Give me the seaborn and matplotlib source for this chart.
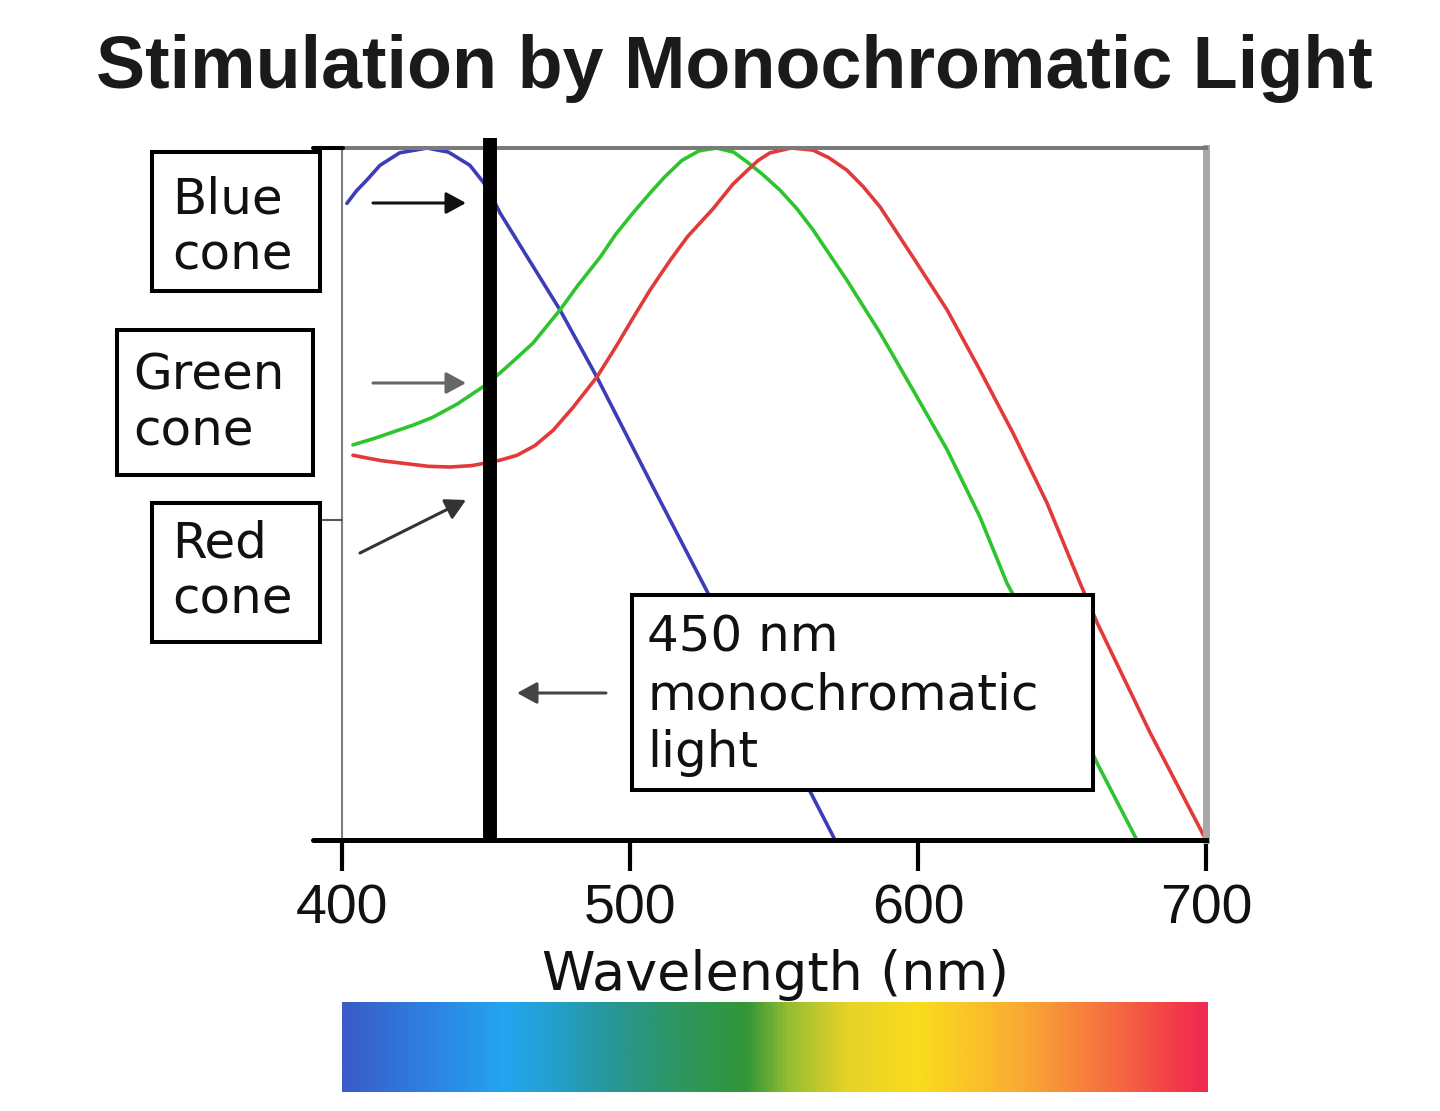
import matplotlib
matplotlib.use("Agg")
import matplotlib.pyplot as plt
import seaborn as sns
import numpy as np
from matplotlib.patches import Rectangle, FancyArrowPatch
from matplotlib.lines import Line2D
from matplotlib.colors import LinearSegmentedColormap

# ---------------- data ----------------
blue_nm = [401.7, 405, 408.7, 413.2, 420, 429.5, 437, 444.4, 450.3, 454.9, 465, 475.7, 488.5, 508.0, 525.3, 540, 556, 571.2]
blue_val = [0.920, 0.938, 0.954, 0.975, 0.993, 1.0, 0.994, 0.975, 0.944, 0.906, 0.838, 0.766, 0.669, 0.510, 0.371, 0.253, 0.123, 0.0]

green_nm = [403.8, 411, 418, 425, 431.6, 440, 449.0, 454.9, 460, 466.3, 475.7, 482, 489.6, 495, 501.0, 507, 512, 518, 524, 530, 536,
            540.6, 546, 552.1, 558, 563.5, 569, 575.3, 586.8, 598.3, 610.1, 621.5, 630.9, 647, 662.2, 676]
green_val = [0.571, 0.580, 0.590, 0.600, 0.611, 0.630, 0.655, 0.675, 0.694, 0.718, 0.766, 0.802, 0.842, 0.875, 0.906, 0.935, 0.958, 0.982, 0.996, 1.0, 0.994,
             0.980, 0.962, 0.939, 0.912, 0.882, 0.848, 0.809, 0.733, 0.650, 0.564, 0.467, 0.371, 0.247, 0.111, 0.0]

red_nm = [403.8, 408.7, 414, 420, 430, 437.5, 445, 450.3, 455, 460.8, 467, 473.3, 480, 488.5, 495, 501, 507, 514, 520,
          528.8, 535.8, 540.6, 544.5, 548.6, 556, 563.5, 569, 575.3, 581, 586.8, 592, 598.3, 610.1, 621.5, 633.0, 644.8, 656.3,
          662.2, 680.6, 700]
red_val = [0.556, 0.552, 0.548, 0.545, 0.540, 0.539, 0.541, 0.545, 0.549, 0.556, 0.570, 0.592, 0.624, 0.669, 0.712, 0.754,
           0.795, 0.838, 0.872, 0.912, 0.948, 0.967, 0.982, 0.993, 1.0, 0.997, 0.986, 0.968, 0.944, 0.915, 0.882, 0.842, 0.766, 0.679,
           0.588, 0.487, 0.371, 0.314, 0.155, 0.0]

light_nm = 451.5
x_ticks = [400, 500, 600, 700]

spectrum_nm = [400, 430, 456, 475, 493, 515, 540, 555, 575, 600, 633, 667, 685, 700]
spectrum_colors = ["#3a5cc8", "#2d82e1", "#23a5f0", "#239fc8", "#289696", "#2d9664", "#329637",
                   "#96be32", "#e6d228", "#fadc1e", "#faaf32", "#f56e41", "#f34646", "#f02850"]

title = "Stimulation by Monochromatic Light"
xlabel = "Wavelength (nm)"
cone_labels = ["Blue\ncone", "Green\ncone", "Red\ncone"]
light_label = "450 nm\nmonochromatic\nlight"

# ---------------- figure ----------------
sns.set_style("white")
plt.rcParams["font.family"] = ["DejaVu Sans"]

W, H = 1440, 1111
fig = plt.figure(figsize=(W / 100, H / 100), dpi=100)
fig.patch.set_facecolor("white")

def fx(px):
    return px / W

def fy(py):
    return 1 - py / H

ax = fig.add_axes([fx(342), fy(840), 864 / W, 692 / H])

sns.lineplot(x=blue_nm, y=blue_val, ax=ax, color="#3d3db8", linewidth=2.6)
sns.lineplot(x=green_nm, y=green_val, ax=ax, color="#2ec42e", linewidth=2.6)
sns.lineplot(x=red_nm, y=red_val, ax=ax, color="#e23a3a", linewidth=2.6)

# monochromatic light line
ax.plot([light_nm, light_nm], [0, 1.015], color="black", linewidth=10,
        solid_capstyle="butt", clip_on=False, zorder=4)

ax.set_xlim(400, 700)
ax.set_ylim(0, 1)
ax.set_xticks(x_ticks)
ax.set_xticklabels([str(t) for t in x_ticks])
ax.set_yticks([])
ax.tick_params(axis="x", direction="out", length=22, width=3, color="black",
               pad=9, labelsize=40, labelcolor="#111111", bottom=True)
for lab in ax.get_xticklabels():
    lab.set_fontfamily("Liberation Sans")

for side, col, lw in [("top", "#7a7a7a", 2.9), ("right", "#a8a8a8", 5.0),
                      ("left", "#808080", 1.5), ("bottom", "black", 3.6)]:
    ax.spines[side].set_visible(True)
    ax.spines[side].set_color(col)
    ax.spines[side].set_linewidth(lw)

ax.set_xlabel(xlabel, fontsize=39, color="#111111", fontfamily="DejaVu Sans")
ax.xaxis.set_label_coords((776 - 342) / 864, (840 - 990) / 692)
ax.xaxis.label.set_verticalalignment("baseline")

# axis extensions
fig.add_artist(Line2D([fx(313), fx(343)], [fy(148), fy(148)], color="black", lw=2.9,
                      transform=fig.transFigure))
fig.add_artist(Line2D([fx(313), fx(343)], [fy(840), fy(840)], color="black", lw=3.6,
                      transform=fig.transFigure))
fig.add_artist(Line2D([fx(320), fx(342)], [fy(520), fy(520)], color="#555555", lw=1.5,
                      transform=fig.transFigure))

# title
fig.text(fx(734), fy(88), title, ha="center", va="baseline", fontsize=53,
         fontweight="bold", fontfamily="Liberation Sans", color="#1a1a1a")

# label boxes (text anchored at the baseline of the last line)
boxes = [(152, 152, 320, 291), (117, 330, 313, 475), (152, 503, 320, 642)]
text_pos = [(172, 270), (133, 446), (172, 614)]
for (x0, y0, x1, y1), (tx, ty), lab in zip(boxes, text_pos, cone_labels):
    fig.add_artist(Rectangle((fx(x0), fy(y1)), (x1 - x0) / W, (y1 - y0) / H,
                             transform=fig.transFigure, facecolor="white",
                             edgecolor="black", lw=2.9, zorder=5))
    fig.text(fx(tx), fy(ty), lab, ha="left", va="baseline", fontsize=36,
             color="#111111", zorder=6, linespacing=1.22)

fig.add_artist(Rectangle((fx(632), fy(790)), (1093 - 632) / W, (790 - 595) / H,
                         transform=fig.transFigure, facecolor="white",
                         edgecolor="black", lw=2.9, zorder=5))
fig.text(fx(647), fy(767), light_label, ha="left", va="baseline", fontsize=36,
         color="#111111", zorder=6, linespacing=1.26)

# arrows
arrows = [((373, 203), (466, 203), "#111111"),
          ((373, 383), (466, 383), "#666666"),
          ((360, 553), (466, 500), "#333333"),
          ((606, 693), (517, 693), "#444444")]
for (xa, ya), (xb, yb), col in arrows:
    fig.add_artist(FancyArrowPatch((fx(xa), fy(ya)), (fx(xb), fy(yb)),
                                   transform=fig.transFigure,
                                   arrowstyle="-|>,head_length=0.55,head_width=0.3",
                                   mutation_scale=22, lw=2.2, color=col,
                                   shrinkA=0, shrinkB=0, zorder=6))

# spectrum bar
sax = fig.add_axes([fx(342), fy(1092), 866 / W, 90 / H])
pos = [(n - 400) / 300 for n in spectrum_nm]
cmap = LinearSegmentedColormap.from_list("spec", list(zip(pos, spectrum_colors)))
grad = np.linspace(0, 1, 600)[None, :]
sax.imshow(grad, aspect="auto", cmap=cmap, extent=[400, 700, 0, 1])
sax.set_axis_off()

fig.savefig("out.png", dpi=100)
